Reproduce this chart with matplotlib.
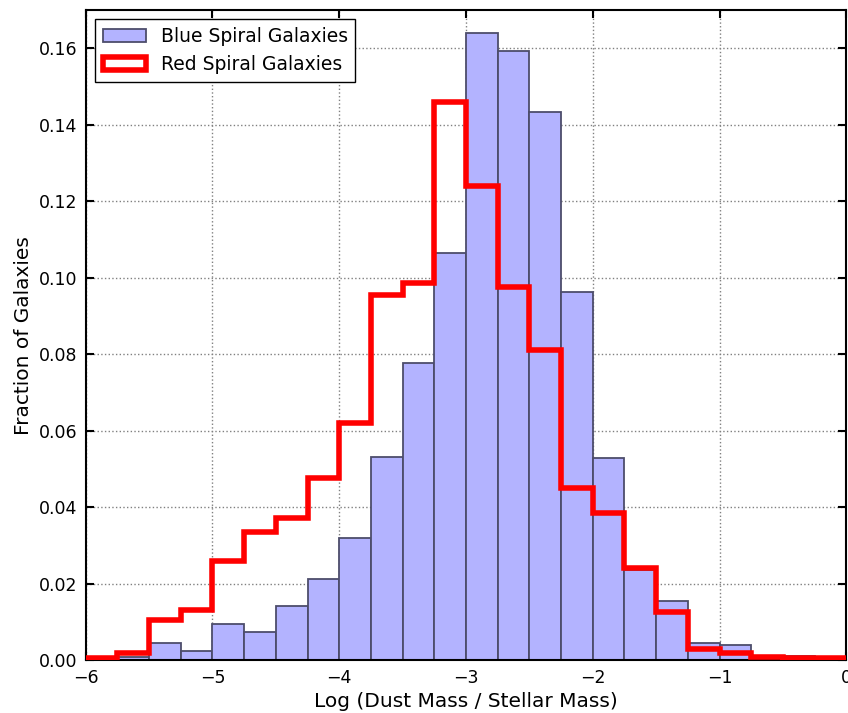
import numpy as np
import matplotlib.pyplot as plt

# bin edges of Log(Dust Mass / Stellar Mass), width 0.25
bin_edges = np.linspace(-6, 0, 25)

blue_frac = [0.0003, 0.0008, 0.0044, 0.0024, 0.0094, 0.0073, 0.0141, 0.0212,
             0.0320, 0.0532, 0.0776, 0.1065, 0.1640, 0.1592, 0.1433, 0.0963,
             0.0530, 0.0235, 0.0155, 0.0044, 0.0039, 0.0007, 0.0010, 0.0003]

red_frac = [0.0005, 0.0019, 0.0105, 0.0132, 0.0259, 0.0334, 0.0372, 0.0476,
            0.0620, 0.0954, 0.0985, 0.1460, 0.1240, 0.0976, 0.0810, 0.0449,
            0.0384, 0.0240, 0.0125, 0.0029, 0.0020, 0.0009, 0.0005, 0.0005]

centers = 0.5 * (bin_edges[:-1] + bin_edges[1:])

fig = plt.figure(figsize=(8.48, 7.13), dpi=100)
ax = fig.add_axes([0.101, 0.074, 0.897, 0.912])

ax.hist(centers, bins=bin_edges, weights=blue_frac, facecolor=(0.7, 0.7, 1.0),
        edgecolor=(0.3, 0.3, 0.42), linewidth=1.3,
        label='Blue Spiral Galaxies', zorder=2)
ax.hist(centers, bins=bin_edges, weights=red_frac, histtype='step',
        color='red', linewidth=4, label='Red Spiral Galaxies', zorder=3)

ax.set_xlim(-6, 0)
ax.set_ylim(0, 0.17)
ax.set_xticks(np.arange(-6, 1, 1))
ax.set_yticks(np.arange(0, 0.17, 0.02))
ax.set_xticklabels(['\u22126', '\u22125', '\u22124', '\u22123', '\u22122', '\u22121', '0'])
ax.set_yticklabels(['%.2f' % v for v in np.arange(0, 0.17, 0.02)])

ax.grid(True, linestyle=':', color='gray', linewidth=1, zorder=0)
ax.set_axisbelow(True)
ax.tick_params(direction='in', top=True, right=True, length=6, width=1.5,
               labelsize=12.5, pad=6)
for s in ax.spines.values():
    s.set_linewidth(1.5)

ax.set_xlabel('Log (Dust Mass / Stellar Mass)', fontsize=14.5)
ax.set_ylabel('Fraction of Galaxies', fontsize=14.5)

leg = ax.legend(loc='upper left', fontsize=13.5, fancybox=False, framealpha=1,
                edgecolor='black', borderaxespad=0.5, handlelength=2.3)
leg.get_frame().set_linewidth(1)

fig.savefig('out.png', dpi=100)
